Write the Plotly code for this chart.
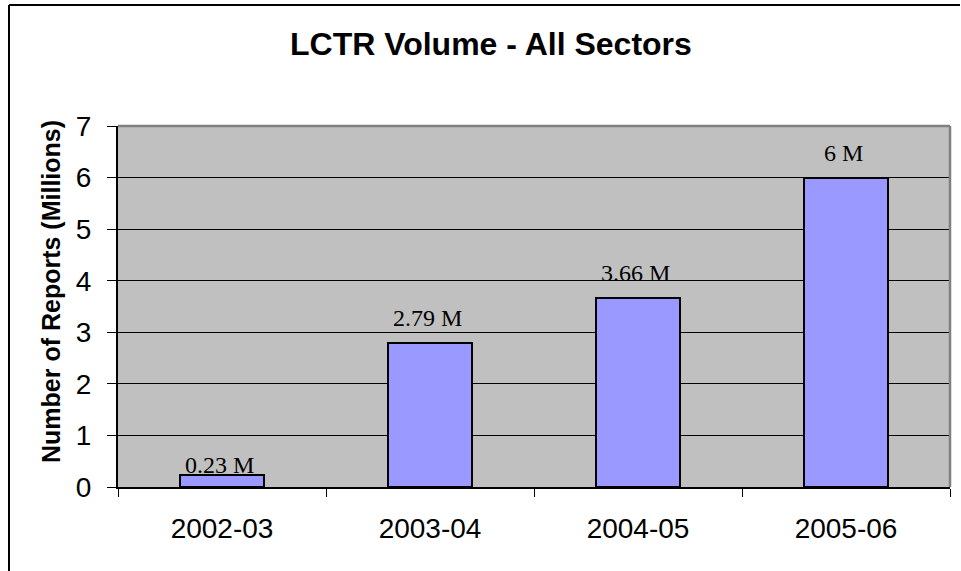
import plotly.graph_objects as go

# Annual LCTR report volumes (millions)
years = ["2002-03", "2003-04", "2004-05", "2005-06"]
reports_millions = [0.23, 2.79, 3.66, 6]
value_labels = ["0.23 M", "2.79 M", "3.66 M", "6 M"]
y_ticks = [0, 1, 2, 3, 4, 5, 6, 7]

W, H = 961, 571
L, R, T, B = 118, 11, 126, 84
plot_w = W - L - R
plot_h = H - T - B


def px_x(x):
    return (x - L) / plot_w


def px_y(y):
    return (H - B - y) / plot_h


fig = go.Figure()

fig.add_trace(go.Bar(
    x=years,
    y=reports_millions,
    width=0.405,
    marker=dict(color="#9999FF", line=dict(color="black", width=2)),
    hoverinfo="x+y",
))

# value labels above each bar (the smallest one sits right on its bar)
label_shift = [-5, 10, 10, 10]
for yr, v, txt, dy in zip(years, reports_millions, value_labels, label_shift):
    fig.add_annotation(
        x=yr, y=v, xref="x", yref="y", text=txt, showarrow=False,
        yanchor="bottom", yshift=dy, xshift=-3,
        font=dict(family="Liberation Serif, Times New Roman, serif", size=24, color="black"),
    )

# chart title
fig.add_annotation(
    x=px_x(491), y=px_y(44), xref="paper", yref="paper",
    text="<b>LCTR Volume - All Sectors</b>", showarrow=False,
    xanchor="center", yanchor="middle",
    font=dict(family="Liberation Sans, Arial, sans-serif", size=32, color="black"),
)

# y-axis title
fig.add_annotation(
    x=px_x(51), y=px_y(292), xref="paper", yref="paper",
    text="<b>Number of Reports (Millions)</b>", showarrow=False, textangle=-90,
    xanchor="center", yanchor="middle",
    font=dict(family="Liberation Sans, Arial, sans-serif", size=25, color="black"),
)

# outer chart frame (only its top and left edges fall inside the page)
fig.add_shape(type="line", xref="paper", yref="paper",
              x0=px_x(9), x1=px_x(W - 1), y0=px_y(5), y1=px_y(5),
              line=dict(color="black", width=2), layer="above")
fig.add_shape(type="line", xref="paper", yref="paper",
              x0=px_x(9), x1=px_x(9), y0=px_y(5), y1=px_y(H),
              line=dict(color="black", width=2), layer="above")

# plot-area border on top and right
fig.add_shape(type="line", xref="paper", yref="paper", x0=0, x1=1, y0=1, y1=1,
              line=dict(color="#808080", width=2.5), layer="above")
fig.add_shape(type="line", xref="paper", yref="paper", x0=1, x1=1, y0=0, y1=1,
              line=dict(color="#808080", width=2.5), layer="above")

fig.update_layout(
    width=W, height=H,
    margin=dict(l=L, r=R, t=T, b=B, pad=0),
    paper_bgcolor="white",
    plot_bgcolor="#C0C0C0",
    showlegend=False,
    bargap=0,
)

fig.update_xaxes(
    type="category",
    tickson="boundaries",
    ticks="outside", ticklen=8, tickwidth=1, tickcolor="black",
    showline=True, linecolor="black", linewidth=2,
    showgrid=False,
    tickfont=dict(family="Liberation Sans, Arial, sans-serif", size=28, color="black"),
    ticklabelstandoff=15,
)

fig.update_yaxes(
    range=[0, 7],
    tickvals=y_ticks,
    ticks="outside", ticklen=9, tickwidth=1, tickcolor="black",
    showline=True, linecolor="black", linewidth=2,
    showgrid=True, gridcolor="black", gridwidth=1,
    zeroline=False,
    tickfont=dict(family="Liberation Sans, Arial, sans-serif", size=28, color="black"),
    ticklabelstandoff=10,
)

fig.write_html("out.html")
